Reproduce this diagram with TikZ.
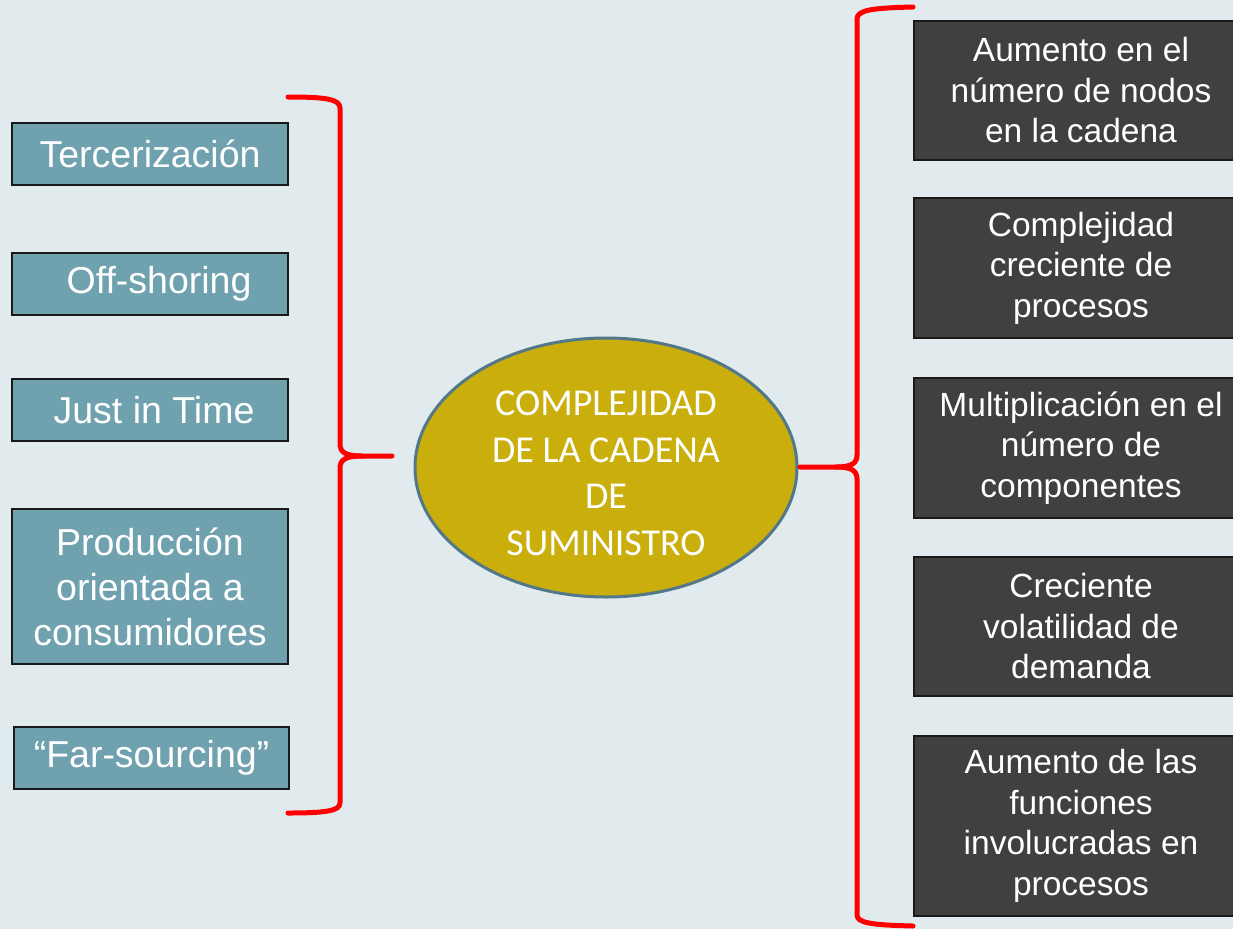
\documentclass[tikz,border=0pt]{standalone}
\usepackage{fontspec}
\setmainfont{Liberation Sans}
\newfontfamily\calfont{Carlito}
\usetikzlibrary{shapes.geometric}
\definecolor{bgc}{HTML}{E1EBEE}
\definecolor{leftfill}{HTML}{6FA1AF}
\definecolor{rightfill}{HTML}{404040}
\definecolor{ellfill}{HTML}{C9AE0C}
\definecolor{ellline}{HTML}{52788A}
\definecolor{bracered}{HTML}{FF0000}
\tikzset{
  leftbox/.style={draw=black!90, line width=1.5pt, fill=leftfill, text=white,
    minimum width=276pt, inner sep=0pt, align=center,
    font=\fontsize{37.5pt}{45pt}\selectfont},
  rightbox/.style={draw=black!90, line width=1.5pt, fill=rightfill, text=white,
    minimum width=334pt, inner sep=0pt, align=center,
    font=\fontsize{33.5pt}{40.5pt}\selectfont},
  centreell/.style={ellipse, draw=ellline, line width=3pt, fill=ellfill, text=white,
    minimum width=382pt, minimum height=259pt, inner sep=0pt, align=center,
    font=\calfont\fontsize{38pt}{46.5pt}\selectfont},
  bracestyle/.style={draw=bracered, line width=5pt, line cap=round, line join=round}
}
\begin{document}
\begin{tikzpicture}[x=1pt,y=-1pt]
\fill[bgc] (0,0) rectangle (1233,929);
\useasboundingbox (0,0) rectangle (1233,929);

% left boxes
\node[leftbox, minimum height=62pt] (l1) at (150,154) {Tercerización};
\node[leftbox, minimum height=62pt] (l2) at (150,284) {\hspace*{18pt}Off-shoring};
\node[leftbox, minimum height=62pt] (l3) at (150,410) {\hspace*{8pt}Just in Time};
\node[leftbox, minimum height=155pt] (l4) at (150,586.5) {Producción\\orientada a\\consumidores};
\node[leftbox, minimum height=62pt, minimum width=275pt] (l5) at (151.5,758) {“Far-sourcing”};

% centre
\node[centreell] (c) at (606,467.5) {\rule{0pt}{36pt}COMPLEJIDAD\\DE LA CADENA\\DE\\SUMINISTRO};

% right boxes
\node[rightbox, minimum height=139pt] (r1) at (1081,90.5) {Aumento en el\\número de nodos\\en la cadena};
\node[rightbox, minimum height=140pt] (r2) at (1081,268) {Complejidad\\creciente de\\procesos};
\node[rightbox, minimum height=140pt] (r3) at (1081,448) {Multiplicación en el\\número de\\componentes};
\node[rightbox, minimum height=139pt] (r4) at (1081,626.5) {Creciente\\volatilidad de\\demanda};
\node[rightbox, minimum height=180pt] (r5) at (1081,826) {Aumento de las\\funciones\\involucradas en\\procesos};

% left brace
\coordinate (lbtop) at (288,97);
\coordinate (lbtip) at (392,456);
\coordinate (lbbot) at (288,813);
\draw[bracestyle] (lbtop) .. controls (325,97) and (340,99) .. (340,108) -- (340,444)
  .. controls (340,452) and (345,456) .. (362,456) -- (lbtip);
\draw[bracestyle] (362,456) .. controls (345,456) and (340,460) .. (340,468) -- (340,803)
  .. controls (340,811) and (325,813) .. (lbbot);

% right brace
\coordinate (rbtop) at (913,7);
\coordinate (rbtip) at (800,467);
\coordinate (rbbot) at (913,926);
\draw[bracestyle] (rbtop) .. controls (872,8) and (857,10) .. (857,19) -- (857,455)
  .. controls (857,463) and (852,467) .. (836,467) -- (rbtip);
\draw[bracestyle] (836,467) .. controls (852,467) and (857,471) .. (857,479) -- (857,915)
  .. controls (857,923) and (872,925) .. (rbbot);
\end{tikzpicture}
\end{document}
